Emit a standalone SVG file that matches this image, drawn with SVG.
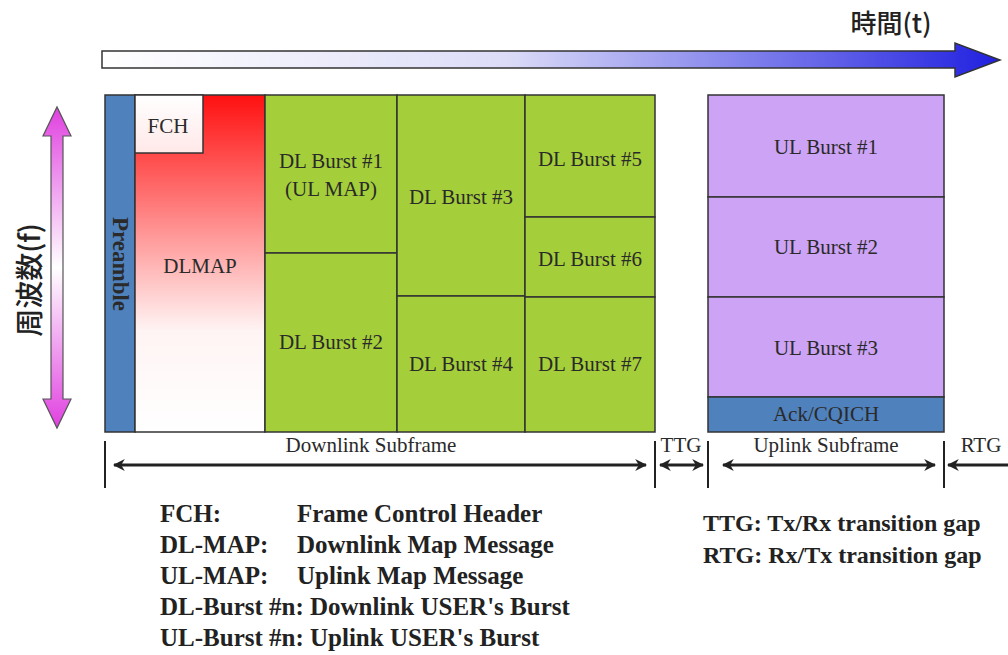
<svg xmlns="http://www.w3.org/2000/svg" width="1008" height="655" viewBox="0 0 1008 655">
<defs>
<style>
.box{stroke:#333;stroke-width:1.5}
.g{fill:#a5cf3a}
.p{fill:#cda3f5}
.b{fill:#4f81bd}
.t{font-family:"Liberation Serif","DejaVu Serif",serif;font-size:21px;fill:#2a2a2a;text-anchor:middle}
.lg{font-family:"Liberation Serif","DejaVu Serif",serif;font-size:25px;font-weight:bold;fill:#222}
.cjk{font-family:"Noto Sans CJK JP","Noto Sans CJK SC",sans-serif;font-weight:500;fill:#222;text-anchor:middle}
.dim{stroke:#222;stroke-width:3;fill:none}
.tick{stroke:#222;stroke-width:2}
</style>
<linearGradient id="tgrad" x1="0" y1="0" x2="1" y2="0">
<stop offset="0" stop-color="#ffffff"/><stop offset="0.45" stop-color="#dcdcf8"/><stop offset="1" stop-color="#2020e0"/>
</linearGradient>
<linearGradient id="fgrad" x1="0" y1="0" x2="0" y2="1">
<stop offset="0" stop-color="#e040e0"/><stop offset="0.5" stop-color="#ffffff"/><stop offset="1" stop-color="#e040e0"/>
</linearGradient>
<linearGradient id="rgrad" x1="0" y1="0" x2="0" y2="1">
<stop offset="0" stop-color="#ff1010"/><stop offset="0.7" stop-color="#fff4f4"/><stop offset="1" stop-color="#ffffff"/>
</linearGradient>
<linearGradient id="fchgrad" x1="0" y1="0" x2="0" y2="1">
<stop offset="0" stop-color="#ffffff"/><stop offset="1" stop-color="#ffe8e8"/>
</linearGradient>
<marker id="ah" viewBox="0 0 10 10" refX="9" refY="5" markerWidth="4" markerHeight="4" orient="auto-start-reverse">
<path d="M0,0 L10,5 L0,10 L3,5 z" fill="#222"/>
</marker>
</defs>
<rect width="1008" height="655" fill="#fff"/>

<g id="time-axis">
<path d="M102,51 H955 V43 L1000,60 L955,77 V68 H102 Z" fill="url(#tgrad)" stroke="#333" stroke-width="1.5"/>
<text class="cjk" x="891" y="33" style="font-size:26px">時間(t)</text>
</g>

<g id="freq-axis">
<path d="M51,136 V399 H43 L57,428 L71,399 H63 V136 H71 L57,107 L43,136 Z" fill="url(#fgrad)" stroke="#555" stroke-width="1.2"/>
<text class="cjk" transform="translate(40,280) rotate(-90)" style="font-size:28px">周波数(f)</text>
</g>

<g id="preamble"><rect class="box b" x="105" y="95" width="30" height="337"/>
<text class="t" transform="translate(113,264) rotate(90)" style="font-weight:bold;font-size:23px">Preamble</text></g>
<g id="dlmap"><rect class="box" x="135" y="95" width="130" height="337" fill="url(#rgrad)"/>
<text class="t" x="200" y="273">DLMAP</text></g>
<g id="fch"><rect class="box" x="135" y="95" width="68" height="58" fill="url(#fchgrad)"/>
<text class="t" x="168" y="133">FCH</text></g>
<g id="dl1"><rect class="box g" x="265" y="95" width="132" height="158"/>
<text class="t" x="331" y="168">DL Burst #1</text><text class="t" x="331" y="196">(UL MAP)</text></g>
<g id="dl2"><rect class="box g" x="265" y="253" width="132" height="179"/>
<text class="t" x="331" y="349">DL Burst #2</text></g>
<g id="dl3"><rect class="box g" x="397" y="95" width="128" height="201"/>
<text class="t" x="461" y="204">DL Burst #3</text></g>
<g id="dl4"><rect class="box g" x="397" y="296" width="128" height="136"/>
<text class="t" x="461" y="371">DL Burst #4</text></g>
<g id="dl5"><rect class="box g" x="525" y="95" width="130" height="122"/>
<text class="t" x="590" y="166">DL Burst #5</text></g>
<g id="dl6"><rect class="box g" x="525" y="217" width="130" height="80"/>
<text class="t" x="590" y="266">DL Burst #6</text></g>
<g id="dl7"><rect class="box g" x="525" y="297" width="130" height="135"/>
<text class="t" x="590" y="371">DL Burst #7</text></g>

<g id="ul1"><rect class="box p" x="708" y="95" width="236" height="102"/>
<text class="t" x="826" y="154">UL Burst #1</text></g>
<g id="ul2"><rect class="box p" x="708" y="197" width="236" height="100"/>
<text class="t" x="826" y="254">UL Burst #2</text></g>
<g id="ul3"><rect class="box p" x="708" y="297" width="236" height="100"/>
<text class="t" x="826" y="355">UL Burst #3</text></g>
<g id="ack"><rect class="box b" x="708" y="397" width="236" height="35"/>
<text class="t" x="826" y="421">Ack/CQICH</text></g>

<g id="connectors">
<line class="tick" x1="105" y1="441" x2="105" y2="488"/>
<line class="tick" x1="655" y1="441" x2="655" y2="488"/>
<line class="tick" x1="708" y1="441" x2="708" y2="488"/>
<line class="tick" x1="944" y1="441" x2="944" y2="488"/>
<line class="dim" x1="114" y1="465" x2="646" y2="465" marker-start="url(#ah)" marker-end="url(#ah)"/>
<line class="dim" x1="660" y1="465" x2="703" y2="465" marker-start="url(#ah)" marker-end="url(#ah)"/>
<line class="dim" x1="723" y1="465" x2="935" y2="465" marker-start="url(#ah)" marker-end="url(#ah)"/>
<line class="dim" x1="948" y1="465" x2="1008" y2="465" marker-start="url(#ah)"/>
</g>

<g id="dim-labels">
<text class="t" x="371" y="452">Downlink Subframe</text>
<text class="t" x="681" y="452">TTG</text>
<text class="t" x="826" y="452">Uplink Subframe</text>
<text class="t" x="981" y="452">RTG</text>
</g>

<g id="legend">
<text class="lg" x="160" y="522">FCH:</text><text class="lg" x="297" y="522">Frame Control Header</text>
<text class="lg" x="160" y="553">DL-MAP:</text><text class="lg" x="297" y="553">Downlink Map Message</text>
<text class="lg" x="160" y="584">UL-MAP:</text><text class="lg" x="297" y="584">Uplink Map Message</text>
<text class="lg" x="160" y="615">DL-Burst #n: Downlink USER's Burst</text>
<text class="lg" x="160" y="646">UL-Burst #n: Uplink USER's Burst</text>
<text class="lg" x="703" y="531" style="font-size:24px">TTG: Tx/Rx transition gap</text>
<text class="lg" x="703" y="563" style="font-size:24px">RTG: Rx/Tx transition gap</text>
</g>
</svg>
